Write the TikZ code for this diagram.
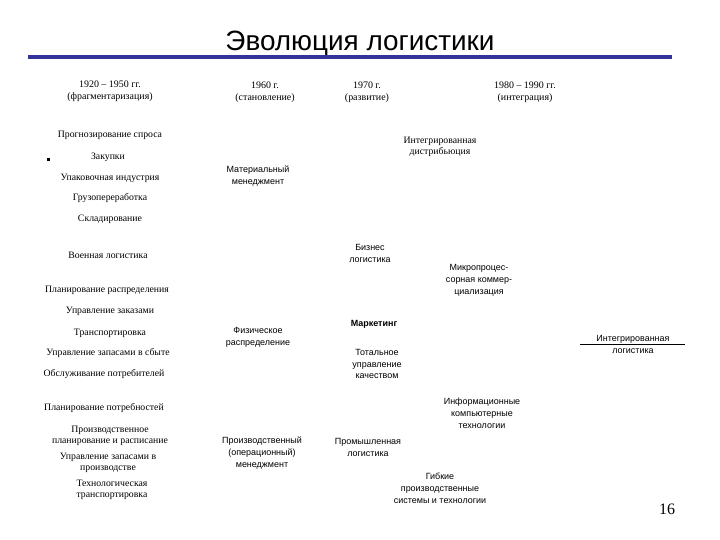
\documentclass[tikz,border=0pt]{standalone}
\usepackage{fontspec}
\setmainfont{Liberation Serif}
\setsansfont{Liberation Sans}
\usetikzlibrary{positioning}
\definecolor{barblue}{RGB}{51,51,153}

\begin{document}
\begin{tikzpicture}[x=1bp,y=-1bp,
    head/.style={font=\fontsize{10}{12}\selectfont,align=center,inner sep=0pt},
    item/.style={font=\fontsize{9.8}{11.5}\selectfont,align=center,inner sep=0pt},
    itemsf/.style={font=\sffamily\fontsize{9}{12}\selectfont,align=center,inner sep=0pt}]
    \useasboundingbox (0,0) rectangle (720,540);

    % Title and bar
    \node[font=\sffamily\fontsize{28}{32}\selectfont] (title) at (360,44) {Эволюция логистики};
    \fill[barblue] (28,55.5) rectangle (672,59.5);

    % Headers
    \node[head] (h1) at (110,91) {1920 -- 1950 гг.\\(фрагментаризация)};
    \node[head] (h2) at (265,92) {1960 г.\\(становление)};
    \node[head] (h3) at (367,92) {1970 г.\\(развитие)};
    \node[head] (h4) at (525,92) {1980 -- 1990 гг.\\(интеграция)};

    % Column 1
    \fill (46.5,158.5) rectangle (49.5,161.5); % bullet
    \node[item] (c1a) at (110,135) {Прогнозирование спроса};
    \node[item] (c1b) at (108,157) {Закупки};
    \node[item] (c1c) at (110,178) {Упаковочная индустрия};
    \node[item] (c1d) at (110,198) {Грузопереработка};
    \node[item] (c1e) at (110,219) {Складирование};
    \node[item] (c1f) at (108,255) {Военная логистика};
    \node[item] (c1g) at (107,290) {Планирование распределения};
    \node[item] (c1h) at (110,311) {Управление заказами};
    \node[item] (c1i) at (110,333) {Транспортировка};
    \node[item] (c1j) at (108,353) {Управление запасами в сбыте};
    \node[item] (c1k) at (104,374) {Обслуживание потребителей};
    \node[item] (c1l) at (104,408) {Планирование потребностей};
    \node[item] (c1m) at (110,436) {Производственное\\планирование и расписание};
    \node[item] (c1n) at (108,463) {Управление запасами в\\производстве};
    \node[item] (c1o) at (112,490) {Технологическая\\транспортировка};

    % Column 2
    \node[itemsf] (c2a) at (258,176) {Материальный\\менеджмент};
    \node[itemsf] (c2b) at (258,337) {Физическое\\распределение};
    \node[itemsf] (c2c) at (262,453) {Производственный\\(операционный)\\менеджмент};

    % Column 3
    \node[itemsf] (c3a) at (370,253) {Бизнес\\логистика};
    \node[itemsf,font=\sffamily\bfseries\fontsize{9}{12}\selectfont] (c3b) at (374,324) {Маркетинг};
    \node[itemsf] (c3c) at (377,364) {Тотальное\\управление\\качеством};
    \node[itemsf] (c3d) at (368,447) {Промышленная\\логистика};

    % Column 4
    \node[item] (c4a) at (440,147) {Интегрированная\\дистрибьюция};
    \node[itemsf] (c4b) at (479,280) {Микропроцес-\\сорная коммер-\\циализация};
    \node[itemsf] (c4c) at (482,413) {Информационные\\компьютерные\\технологии};
    \node[itemsf] (c4d) at (440,488) {Гибкие\\производственные\\системы и технологии};

    % Result
    \node[itemsf] (res) at (633,344) {Интегрированная\\логистика};
    \coordinate (rl) at (580,344);
    \coordinate (rr) at (685,344);
    \draw[line width=0.8] (rl) -- (rr);

    % Page number
    \node[font=\fontsize{16}{18}\selectfont] (pg) at (667,509) {16};
\end{tikzpicture}
\end{document}
